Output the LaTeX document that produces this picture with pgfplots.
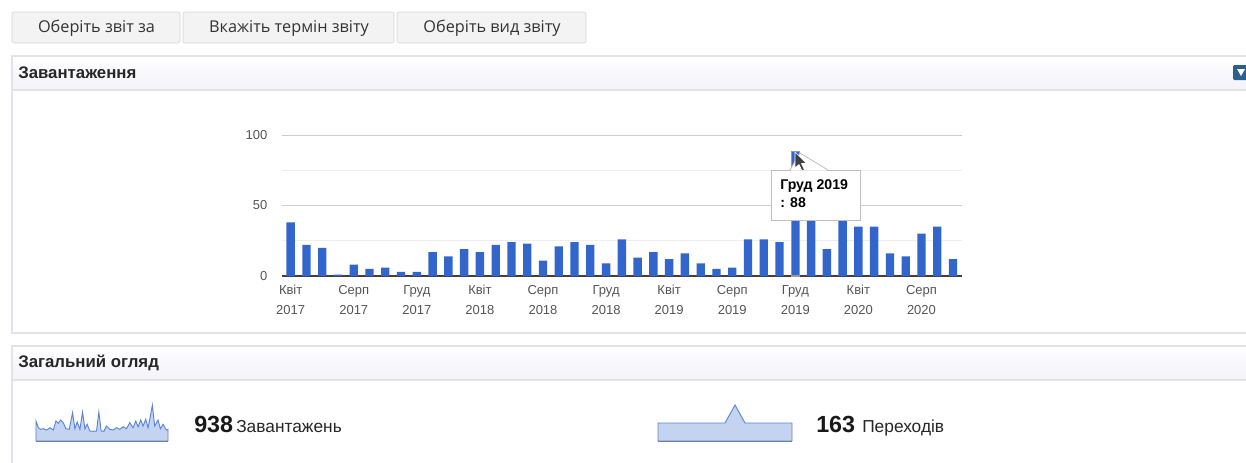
\documentclass[border=0pt]{standalone}
\usepackage{pgfplots}
\pgfplotsset{compat=1.18}
\usepackage{pgfplotstable}
\usepackage{fontspec}
\setmainfont{Liberation Sans}
\newfontfamily\btnfont{Open Sans}
\usetikzlibrary{shadows}

\definecolor{barblue}{HTML}{3366CC}
\definecolor{tickgray}{HTML}{555555}
\definecolor{gridmajor}{HTML}{CCCCCC}
\definecolor{gridminor}{HTML}{EEEEEE}
\definecolor{btnfill}{HTML}{F3F3F3}
\definecolor{btnborder}{HTML}{D6D6D6}
\definecolor{panelborder}{HTML}{E2E2EA}
\definecolor{hdrbot}{HTML}{F2F2F8}
\definecolor{sparkline}{HTML}{5A86D8}
\definecolor{sparkfill}{HTML}{C3D3F0}
\definecolor{iconblue}{HTML}{2B5F8E}

% two-line month label with a fixed first-line height
\newcommand\tl[2]{\rule{0pt}{7.6pt}#1\\#2}

% monthly downloads, Apr 2017 (0) .. Oct 2020 (42)
\pgfplotstableread{
idx val
0 38
1 22
2 20
3 1
4 8
5 5
6 6
7 3
8 3
9 17
10 14
11 19
12 17
13 22
14 24
15 23
16 11
17 21
18 24
19 22
20 9
21 26
22 13
23 17
24 12
25 16
26 9
27 5
28 6
29 26
30 26
31 24
32 88
33 68
34 19
35 59
36 35
37 35
38 16
39 14
40 30
41 35
42 12
}\downloads

\pgfplotstableread{
x h
18 20
25 13.3
32 11.7
40 12.3
50 11
60 13.3
70 11
78 20
85 17.7
92 21
100 18.3
108 12.3
118 11.7
128 28.3
135 12.3
142 19
150 11.7
158 29
165 12.3
172 16.7
180 10
190 9.7
200 10
207 29
214 10
222 9.7
230 15
240 11.7
250 11
260 13.3
270 11.7
280 14.3
290 12.3
300 18.3
310 13.3
318 20
325 14.3
333 21
340 15
348 21.7
355 13.3
362 25
368 35.7
375 15
385 21
392 12.3
400 16.7
410 11
415 11.7
}\sparkdl

\pgfplotstableread{
x h
0 18
67 18
77 36
87 18
134 18
}\sparkref

\begin{document}
\begin{tikzpicture}
\useasboundingbox (0pt,0pt) rectangle (934.5pt,-346.5pt);
\clip (0pt,0pt) rectangle (934.5pt,-346.5pt);
\fill[white] (0pt,0pt) rectangle (934.5pt,-346.5pt);

\begin{scope}[x=0.75pt,y=-0.75pt]
  % buttons
  \draw[btnborder, fill=btnfill, rounded corners=1.5pt] (12,12) rectangle (180,43);
  \draw[btnborder, fill=btnfill, rounded corners=1.5pt] (183,12) rectangle (394,43);
  \draw[btnborder, fill=btnfill, rounded corners=1.5pt] (397,12) rectangle (586,43);
  \node[font=\btnfont\fontsize{12.2}{14}\selectfont, text=black!80] at (96.5,28) {Оберіть звіт за};
  \node[font=\btnfont\fontsize{12.2}{14}\selectfont, text=black!80] at (289,28) {Вкажіть термін звіту};
  \node[font=\btnfont\fontsize{12.2}{14}\selectfont, text=black!80] at (492,28) {Оберіть вид звіту};

  % panel 1
  \fill[white] (12,56) rectangle (1260,333);
  \shade[top color=white, bottom color=hdrbot] (12,56) rectangle (1260,90);
  \draw[panelborder, line width=0.9pt] (12,56) rectangle (1260,333);
  \draw[panelborder, line width=0.9pt] (12,90) -- (1260,90);
  \node[anchor=west, inner sep=0pt, font=\bfseries\fontsize{12.6}{14}\selectfont, text=black!85] at (18,73) {Завантаження};
  \fill[iconblue, rounded corners=1pt] (1233,65) rectangle (1252,80);
  \fill[white] (1237,69) -- (1245,69) -- (1241,76) -- cycle;

  % panel 2
  \fill[white] (12,346) rectangle (1260,480);
  \shade[top color=white, bottom color=hdrbot] (12,346) rectangle (1260,380);
  \draw[panelborder, line width=0.9pt] (12,346) rectangle (1260,480);
  \draw[panelborder, line width=0.9pt] (12,380) -- (1260,380);
  \node[anchor=west, inner sep=0pt, font=\bfseries\fontsize{12.6}{14}\selectfont, text=black!85] at (18,363) {Загальний огляд};

  % overview figures
  \node[anchor=base west, inner sep=0pt, font=\bfseries\fontsize{17.5}{20}\selectfont, text=black!90] at (194,432) {938};
  \node[anchor=base west, inner sep=0pt, font=\fontsize{13}{15}\selectfont, text=black!85] at (236,432) {Завантажень};
  \node[anchor=base west, inner sep=0pt, font=\bfseries\fontsize{17.5}{20}\selectfont, text=black!90] at (816,432) {163};
  \node[anchor=base west, inner sep=0pt, font=\fontsize{13}{15}\selectfont, text=black!85] at (862,432) {Переходів};
\end{scope}

% main bar chart
\begin{axis}[
  at={(211.5pt,-207pt)}, anchor=south west,
  width=510pt, height=105.75pt, scale only axis,
  xmin=-0.55, xmax=42.57, ymin=0, ymax=100,
  axis lines*=left,
  x axis line style={draw=black!75, line width=1pt},
  y axis line style={draw=none},
  xtick={0,4,...,40},
  xticklabels={{\tl{Квіт}{2017}},{\tl{Серп}{2017}},{\tl{Груд}{2017}},{\tl{Квіт}{2018}},{\tl{Серп}{2018}},{\tl{Груд}{2018}},{\tl{Квіт}{2019}},{\tl{Серп}{2019}},{\tl{Груд}{2019}},{\tl{Квіт}{2020}},{\tl{Серп}{2020}}},
  xticklabel style={align=center, font=\fontsize{9.75}{14.6}\selectfont, text=tickgray, yshift=-3pt},
  ytick={0,50,100},
  minor ytick={25,75},
  yticklabel style={font=\fontsize{9.75}{12}\selectfont, text=tickgray, xshift=-7.5pt},
  /pgf/number format/assume math mode=true,
  major tick length=0pt, minor tick length=0pt,
  ymajorgrids, yminorgrids,
  major grid style={gridmajor, line width=0.75pt},
  minor grid style={gridminor, line width=0.75pt},
  clip=false,
]
  \addplot[ybar, bar width=0.53, bar shift=0pt, fill=barblue, draw=none] table[x=idx, y=val] {\downloads};
  \addplot[ybar, bar width=0.53, bar shift=0pt, fill=barblue, draw=black!40, line width=0.8pt] coordinates {(32,88)};
\end{axis}

% sparkline: downloads
\begin{axis}[
  at={(27pt,-330.75pt)}, anchor=south west,
  width=99pt, height=31.5pt, scale only axis,
  xmin=18, xmax=415, ymin=0, ymax=42,
  axis lines*=left,
  x axis line style={draw=black!55, line width=2pt},
  y axis line style={draw=none},
  xtick=\empty, ytick=\empty,
  clip=false,
]
  \addplot[draw=sparkline, line width=0.7pt, fill=sparkfill] table[x=x, y=h] {\sparkdl} \closedcycle;
\end{axis}

% sparkline: referrals
\begin{axis}[
  at={(493.5pt,-330.75pt)}, anchor=south west,
  width=100.5pt, height=31.5pt, scale only axis,
  xmin=0, xmax=134, ymin=0, ymax=42,
  axis lines*=left,
  x axis line style={draw=black!55, line width=2pt},
  y axis line style={draw=none},
  xtick=\empty, ytick=\empty,
  clip=false,
]
  \addplot[draw=sparkline, line width=0.7pt, fill=sparkfill] table[x=x, y=h] {\sparkref} \closedcycle;
\end{axis}

% tooltip over the hovered bar
\begin{scope}[x=0.75pt,y=-0.75pt]
  \draw[black!25, fill=white, line width=0.6pt] (790,170) -- (800,153) -- (828,170);
  \draw[black!25, fill=white, line width=0.6pt, drop shadow={opacity=0.15, shadow xshift=1pt, shadow yshift=-1pt}] (771,170) rectangle (860,220);
  \fill[white] (791,170.6) -- (800,155) -- (827,170.6) -- cycle;
  \node[anchor=west, inner sep=0pt, font=\bfseries\fontsize{10.6}{12}\selectfont] at (780,186) {Груд 2019};
  \node[anchor=west, inner sep=0pt, font=\bfseries\fontsize{10.6}{12}\selectfont] at (780,203) {: 88};
  % mouse pointer
  \draw[white, fill=black!75, line width=0.5pt, line join=round]
    (795,152) -- (795,168) -- (799,164.5) -- (802,171) -- (804.5,170) -- (801.5,163.5) -- (806.5,163.5) -- cycle;
\end{scope}
\end{tikzpicture}
\end{document}
